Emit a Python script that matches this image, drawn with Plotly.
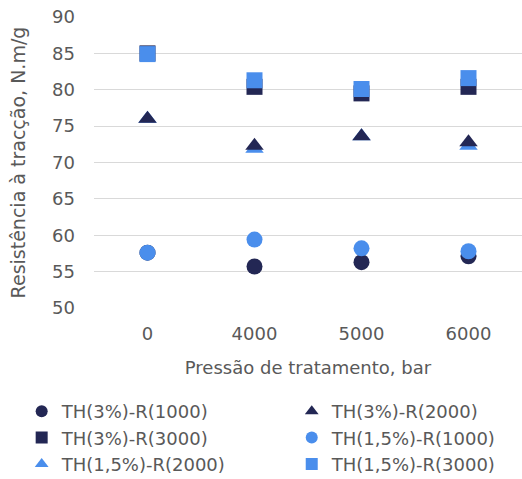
import plotly.graph_objects as go

categories = ["0", "4000", "5000", "6000"]
th3_r1000 = [57.6, 55.7, 56.3, 57.1]
th3_r2000 = [76.0, 72.3, 73.6, 72.8]
th3_r3000 = [85.0, 80.4, 79.5, 80.4]
th15_r1000 = [57.6, 59.4, 58.2, 57.8]
th15_r2000 = [76.0, 71.9, 73.6, 72.3]
th15_r3000 = [84.9, 81.3, 80.1, 81.6]
y_ticks = [50, 55, 60, 65, 70, 75, 80, 85, 90]

DARK = "#232754"
LIGHT = "#4A8EEC"
FONT = "DejaVu Sans, sans-serif"
GRAY = "#595959"
FS = 18

# (name, values, symbol, colour, legend, legend rank); listed in drawing order
series = [
    ("TH(3%)-R(1000)", th3_r1000, "circle", DARK, "legend", 1),
    ("TH(3%)-R(3000)", th3_r3000, "square", DARK, "legend", 2),
    ("TH(1,5%)-R(1000)", th15_r1000, "circle", LIGHT, "legend2", 2),
    ("TH(1,5%)-R(3000)", th15_r3000, "square", LIGHT, "legend2", 3),
    ("TH(1,5%)-R(2000)", th15_r2000, "triangle-up", LIGHT, "legend", 3),
    ("TH(3%)-R(2000)", th3_r2000, "triangle-up", DARK, "legend2", 1),
]

fig = go.Figure()
for name, vals, sym, col, leg, rank in series:
    fig.add_trace(go.Scatter(
        x=categories, y=vals, name=name, mode="markers", legend=leg,
        legendrank=rank,
        marker=dict(symbol=sym, size=16, color=col, line=dict(width=0)),
    ))

legend_common = dict(
    orientation="v", yanchor="top", xanchor="left",
    font=dict(family=FONT, size=FS, color=GRAY),
    itemwidth=30, tracegroupgap=0, itemsizing="constant",
    bgcolor="rgba(0,0,0,0)", borderwidth=0,
)

fig.update_layout(
    width=522, height=479,
    margin=dict(l=94, r=0, t=17, b=171, autoexpand=False),
    paper_bgcolor="white", plot_bgcolor="white",
    font=dict(family=FONT, size=FS, color=GRAY),
    showlegend=True,
    legend=dict(x=-0.169, y=-0.292, **legend_common),
    legend2=dict(x=0.462, y=-0.292, **legend_common),
    xaxis=dict(
        type="category", range=[-0.5, 3.5], showgrid=False, showline=False,
        zeroline=False, ticks="", tickfont=dict(size=FS, color=GRAY),
        ticklabelstandoff=13,
        title=dict(text="Pressão de tratamento, bar", font=dict(size=FS, color=GRAY), standoff=18),
    ),
    yaxis=dict(
        range=[50, 90], tickvals=y_ticks, showgrid=True, gridcolor="#D9D9D9",
        gridwidth=1, zeroline=False, showline=False, ticks="",
        tickfont=dict(size=FS, color=GRAY), ticklabelstandoff=18,
        title=dict(text="Resistência à tracção, N.m/g", font=dict(size=19, color=GRAY), standoff=21),
    ),
)

fig.write_html("out.html")
